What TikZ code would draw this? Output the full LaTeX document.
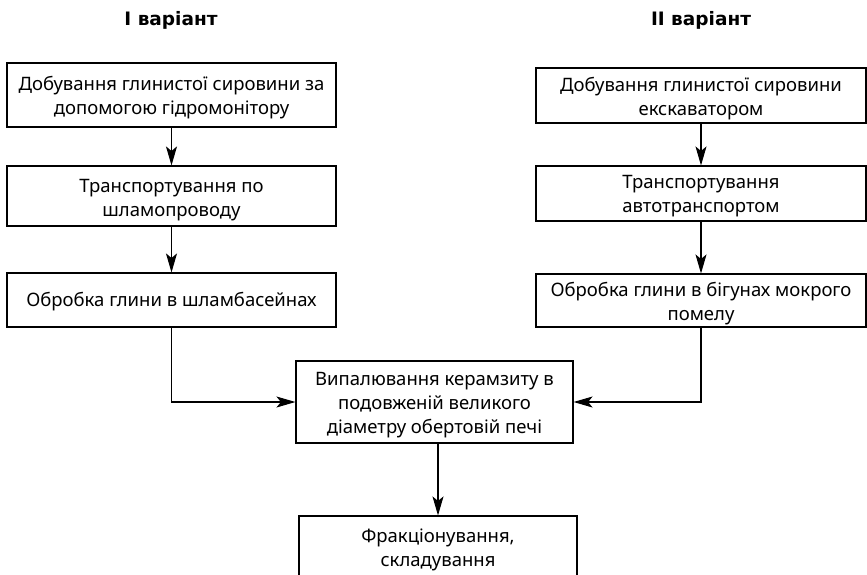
\documentclass[tikz,border=0pt]{standalone}
\usepackage{fontspec}
\setmainfont{Noto Sans}
\newfontfamily\titlefont{DejaVu Sans}
\usetikzlibrary{arrows.meta}
\tikzset{
  box/.style={draw=black, line width=1.1pt, inner sep=0pt},
  txt/.style={inner sep=0pt, align=center, font=\fontsize{18.5}{24}\selectfont},
  title/.style={font=\titlefont\bfseries\fontsize{18.5}{20}\selectfont},
  arr/.style={line width=1.1pt, -{Stealth[length=19pt,width=11pt,inset=4.5pt]}},
}
\begin{document}
\begin{tikzpicture}[x=1pt,y=-1pt]
\useasboundingbox (0,0) rectangle (867,574);
\clip (0,0) rectangle (867,574);
\node[title] (t1) at (171,20) {I варіант};
\node[title] (t2) at (701,20) {II варіант};
% left column
\node[box, minimum width=329, minimum height=64] (l1) at (171.5,95) {};
\node[txt] (l1t) at ([yshift=-3pt]l1.center) {Добування глинистої сировини за\\допомогою гідромонітору};
\node[box, minimum width=329, minimum height=60] (l2) at (171.5,196) {};
\node[txt] (l2t) at ([yshift=-4pt]l2.center) {Транспортування по\\шламопроводу};
\node[box, minimum width=329, minimum height=54] (l3) at (171.5,300) {};
\node[txt] (l3t) at ([yshift=-2pt]l3.center) {Обробка глини в шламбасейнах};
% right column
\node[box, minimum width=330, minimum height=55] (r1) at (701,95.5) {};
\node[txt] (r1t) at ([yshift=-3pt]r1.center) {Добування глинистої сировини\\екскаватором};
\node[box, minimum width=330, minimum height=55] (r2) at (701,193.5) {};
\node[txt] (r2t) at ([yshift=-3pt]r2.center) {Транспортування\\автотранспортом};
\node[box, minimum width=330, minimum height=53] (r3) at (701,300.5) {};
\node[txt] (r3t) at ([yshift=-3pt]r3.center) {Обробка глини в бігунах мокрого\\помелу};
% center
\node[box, minimum width=277, minimum height=82] (c) at (434.5,402) {};
\node[txt] (ct) at ([yshift=-3pt]c.center) {Випалювання керамзиту в\\подовженій великого\\діаметру обертовій печі};
\node[box, minimum width=278, minimum height=62] (b) at (438,547) {};
\node[txt] (bt) at ([yshift=-3pt]b.center) {Фракціонування,\\складування};
% connectors
\draw[arr] (l1) -- (l2);
\draw[arr] (l2) -- (l3);
\draw[arr] (r1) -- (r2);
\draw[arr] (r2) -- (r3);
\draw[arr] (l3.south) |- (c.west);
\draw[arr] (r3.south) |- (c.east);
\draw[arr] (b.north |- c.south) -- (b.north);
\end{tikzpicture}
\end{document}
